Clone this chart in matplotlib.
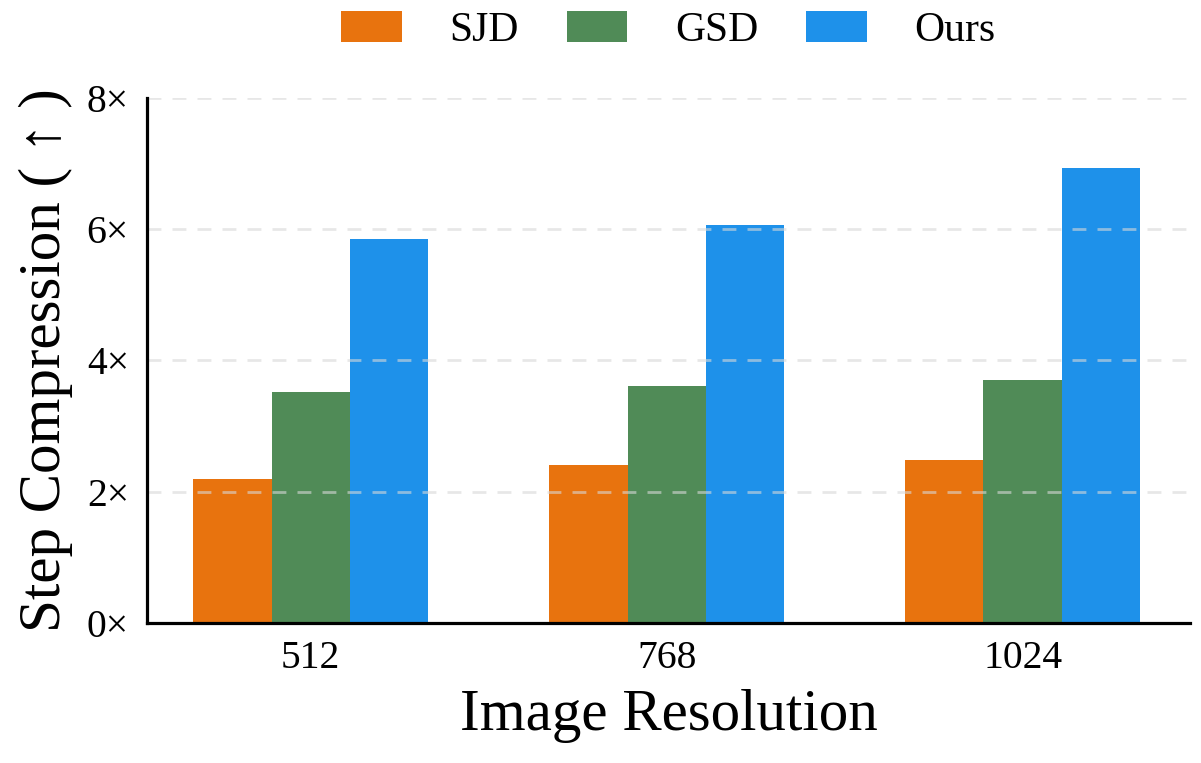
import numpy as np
import matplotlib
matplotlib.use("Agg")
import matplotlib.pyplot as plt

plt.rcParams['font.family'] = ['Liberation Serif', 'DejaVu Serif']

# data
resolutions = ['512', '768', '1024']
methods = ['SJD', 'GSD', 'Ours']
sjd = [2.19, 2.41, 2.48]
gsd = [3.52, 3.61, 3.70]
ours = [5.85, 6.06, 6.94]
colors = ['#E8730E', '#508B57', '#1E91EA']
yticks = [0, 2, 4, 6, 8]

fig = plt.figure(figsize=(12.01, 7.63), dpi=100)
ax = fig.add_axes([0.1224, 0.1835, 0.8684, 0.6881])

x = np.arange(len(resolutions))
w = 0.22
for i, (vals, name) in enumerate(zip([sjd, gsd, ours], methods)):
    ax.bar(x + (i - 1) * w, vals, w, color=colors[i], label=name, zorder=2)

ax.set_xlim(-0.46, 2.47)
ax.set_ylim(0, 8)
ax.set_xticks(x)
ax.set_xticklabels(resolutions)
ax.set_yticks(yticks)
ax.set_yticklabels([f'{t}\u00d7' for t in yticks])
ax.tick_params(axis='both', length=0, labelsize=28.5)
ax.tick_params(axis='y', pad=13)
ax.tick_params(axis='x', pad=12)

ax.yaxis.grid(True, color='#d8d8d8', linestyle=(0, (5, 4)), linewidth=2, alpha=0.6, zorder=3)
ax.set_axisbelow(False)

for s in ['top', 'right']:
    ax.spines[s].set_visible(False)
for s in ['left', 'bottom']:
    ax.spines[s].set_linewidth(2.3)
    ax.spines[s].set_color('black')
    ax.spines[s].set_zorder(4)

ax.set_xlabel('Image Resolution', fontsize=42.5, labelpad=9)
ax.set_ylabel('Step Compression ( \u2191 )', fontsize=42.5, labelpad=10)

ax.legend(loc='center', bbox_to_anchor=(0.5, 1.128), ncol=3, frameon=False,
          fontsize=30, handlelength=1.45, handleheight=0.75, handletextpad=1.15,
          columnspacing=1.15, borderaxespad=0)

fig.savefig('out.png', dpi=100)
